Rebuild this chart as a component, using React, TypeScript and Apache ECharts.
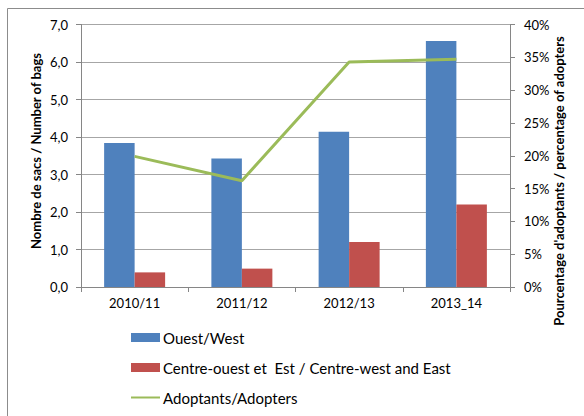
import React, { useEffect, useRef } from "react";
import * as echarts from "echarts";

const categories = ["2010/11", "2011/12", "2012/13", "2013_14"];
const westBags = [3.84, 3.43, 4.14, 6.56];
const centreEastBags = [0.39, 0.49, 1.2, 2.2];
const adoptersPct = [19.9, 16.2, 34.3, 34.7];
const leftTicksMax = 7;
const rightTicksMax = 40;

const FONT = "Lato, 'Open Sans', sans-serif";

export default function App() {
  const ref = useRef<HTMLDivElement>(null);
  useEffect(() => {
    if (!ref.current) return;
    const chart = echarts.init(ref.current, null, { renderer: "svg" });
    chart.setOption({
      animation: false,
      textStyle: { fontFamily: FONT, color: "#000" },
      grid: { left: 81, right: 74, top: 24.5, bottom: 129, containLabel: false },
      legend: {
        orient: "vertical",
        left: 130,
        top: 330,
        padding: 0,
        itemWidth: 29,
        itemHeight: 9,
        itemGap: 15,
        textStyle: { fontFamily: FONT, fontSize: 15, color: "#000", padding: [0, 0, 0, -2] },
        data: [
          { name: "Ouest/West", icon: "rect" },
          { name: "Centre-ouest et  Est / Centre-west and East", icon: "rect" },
          { name: "Adoptants/Adopters", itemStyle: { opacity: 0 } },
        ],
      },
      xAxis: {
        type: "category",
        data: categories,
        axisLine: { lineStyle: { color: "#868686", width: 1 } },
        axisTick: { show: true, length: 5, lineStyle: { color: "#868686" } },
        axisLabel: { fontFamily: FONT, fontSize: 13, color: "#000", margin: 9 },
      },
      yAxis: [
        {
          type: "value",
          min: 0,
          max: leftTicksMax,
          interval: 1,
          axisLine: { show: true, lineStyle: { color: "#868686" } },
          axisTick: { show: true, length: 5, lineStyle: { color: "#868686" } },
          splitLine: { lineStyle: { color: "#a6a6a6", width: 1 } },
          axisLabel: {
            fontFamily: FONT,
            fontSize: 13,
            color: "#000",
            margin: 13,
            formatter: (v: number) => v.toFixed(1).replace(".", ","),
          },
        },
        {
          type: "value",
          min: 0,
          max: rightTicksMax,
          interval: 5,
          position: "right",
          axisLine: { show: true, lineStyle: { color: "#868686" } },
          axisTick: { show: true, length: 5, lineStyle: { color: "#868686" } },
          splitLine: { show: false },
          axisLabel: {
            fontFamily: FONT,
            fontSize: 13,
            color: "#000",
            margin: 14,
            formatter: (v: number) => v + "%",
          },
        },
      ],
      series: [
        {
          name: "Ouest/West",
          type: "bar",
          data: westBags,
          barWidth: 30.5,
          barGap: "0%",
          itemStyle: { color: "#4F81BD" },
        },
        {
          name: "Centre-ouest et  Est / Centre-west and East",
          type: "bar",
          data: centreEastBags,
          barWidth: 30.5,
          barGap: "0%",
          itemStyle: { color: "#C0504D" },
        },
        {
          name: "Adoptants/Adopters",
          type: "line",
          yAxisIndex: 1,
          data: adoptersPct,
          symbol: "none",
          lineStyle: { color: "#9BBB59", width: 3 },
          itemStyle: { color: "#9BBB59" },
        },
      ],
      graphic: [
        {
          type: "rect",
          shape: { x: 7.5, y: 8.5, width: 700, height: 600 },
          style: { fill: "none", stroke: "#8c8c8c", lineWidth: 1 },
          silent: true,
          z: -10,
        },
        {
          type: "text",
          x: 36,
          y: 151,
          rotation: Math.PI / 2,
          style: {
            text: "Nombre de sacs / Number of bags",
            fontFamily: FONT,
            fontSize: 13,
            fontWeight: "bold",
            fill: "#000",
            align: "center",
            verticalAlign: "middle",
          },
        },
        {
          type: "text",
          x: 559,
          y: 181,
          rotation: Math.PI / 2,
          style: {
            text: "Pourcentage d'adoptants / percentage of adopters",
            fontFamily: FONT,
            fontSize: 13,
            fontWeight: "bold",
            fill: "#000",
            align: "center",
            verticalAlign: "middle",
          },
        },
      ],
    });
    return () => chart.dispose();
  }, []);
  return (
    <div
      ref={ref}
      style={{ position: "fixed", left: 0, top: 0, width: 584, height: 416, background: "#fff" }}
    />
  );
}
